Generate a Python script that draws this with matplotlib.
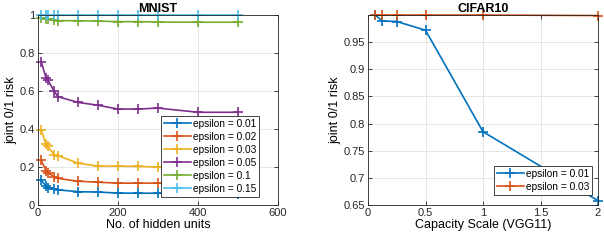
import matplotlib
matplotlib.use("Agg")
import matplotlib.pyplot as plt

plt.rcParams["font.family"] = ["Liberation Sans", "DejaVu Sans"]

# MNIST: joint 0/1 risk vs number of hidden units
mnist_units = [8, 20, 24, 40, 50, 100, 150, 200, 250, 300, 400, 500]
mnist_eps = ["0.01", "0.02", "0.03", "0.05", "0.1", "0.15"]
mnist_risk = [
    [0.13, 0.10, 0.09, 0.085, 0.08, 0.07, 0.068, 0.063, 0.062, 0.062, 0.061, 0.06],
    [0.235, 0.18, 0.17, 0.15, 0.14, 0.125, 0.12, 0.115, 0.115, 0.115, 0.115, 0.115],
    [0.395, 0.32, 0.31, 0.265, 0.26, 0.22, 0.205, 0.205, 0.203, 0.2, 0.198, 0.195],
    [0.755, 0.67, 0.66, 0.60, 0.57, 0.54, 0.525, 0.505, 0.505, 0.51, 0.488, 0.488],
    [0.985, 0.98, 0.98, 0.975, 0.97, 0.97, 0.968, 0.965, 0.965, 0.963, 0.962, 0.962],
    [1.0, 1.0, 1.0, 1.0, 1.0, 1.0, 1.0, 1.0, 1.0, 1.0, 1.0, 1.0],
]

# CIFAR10: joint 0/1 risk vs capacity scale
cifar_scale = [0.0625, 0.125, 0.25, 0.5, 1, 2]
cifar_eps = ["0.01", "0.03"]
cifar_risk = [
    [1.0, 0.989, 0.988, 0.972, 0.785, 0.658],
    [1.0, 1.0, 1.0, 1.0, 1.0, 0.999],
]

colors = ["#0072BD", "#D95319", "#EDB120", "#7E2F8E", "#77AC30", "#4DBEEE"]

W, H = 604, 242
fig = plt.figure(figsize=(W / 100, H / 100), dpi=100)
ax1 = fig.add_axes([38 / W, 1 - 205 / H, 240 / W, 190 / H])
ax2 = fig.add_axes([368 / W, 1 - 205 / H, 230 / W, 190 / H])


def style(ax):
    ax.grid(True, color="#e6e6e6", linewidth=0.7)
    ax.set_axisbelow(True)
    ax.tick_params(direction="in", length=3, width=0.6, labelsize=8,
                   top=True, right=True, colors="#262626", pad=2)
    for s in ax.spines.values():
        s.set_color("#262626")
        s.set_linewidth(0.6)


def legend(ax, anchor):
    leg = ax.legend(loc="lower right", bbox_to_anchor=anchor, fontsize=7.3,
                    frameon=True, fancybox=False, edgecolor="#262626",
                    borderpad=0.3, labelspacing=0.3, handlelength=2.6,
                    handletextpad=0.2, borderaxespad=0, framealpha=1)
    leg.get_frame().set_linewidth(0.6)
    leg.set_zorder(5)


for i, eps in enumerate(mnist_eps):
    ax1.plot(mnist_units, mnist_risk[i], color=colors[i], marker="+",
             markersize=6.5, markeredgewidth=1.2, linewidth=1.2,
             label=f"epsilon = {eps}", clip_on=False)
ax1.set_xlim(0, 600)
ax1.set_ylim(0, 1)
ax1.set_xticks([0, 200, 400, 600])
ax1.set_yticks([0, 0.2, 0.4, 0.6, 0.8, 1])
ax1.set_yticklabels(["0", "0.2", "0.4", "0.6", "0.8", "1"])
ax1.set_xlabel("No. of hidden units", fontsize=9, labelpad=1)
ax1.set_ylabel("joint 0/1 risk", fontsize=9, labelpad=2)
ax1.set_title("MNIST", fontsize=9, fontweight="bold", pad=2)
style(ax1)
legend(ax1, (0.921, 0.042))

for i, eps in enumerate(cifar_eps):
    ax2.plot(cifar_scale, cifar_risk[i], color=colors[i], marker="+",
             markersize=6.5, markeredgewidth=1.2, linewidth=1.2,
             label=f"epsilon = {eps}", clip_on=False)
ax2.set_xlim(0, 2)
ax2.set_ylim(0.65, 1.0)
ax2.set_xticks([0, 0.5, 1, 1.5, 2])
ax2.set_xticklabels(["0", "0.5", "1", "1.5", "2"])
ax2.set_yticks([0.65, 0.7, 0.75, 0.8, 0.85, 0.9, 0.95])
ax2.set_yticklabels(["0.65", "0.7", "0.75", "0.8", "0.85", "0.9", "0.95"])
ax2.set_xlabel("Capacity Scale (VGG11)", fontsize=9, labelpad=1)
ax2.set_ylabel("joint 0/1 risk", fontsize=9, labelpad=2)
ax2.set_title("CIFAR10", fontsize=9, fontweight="bold", pad=2)
style(ax2)
legend(ax2, (0.974, 0.053))

fig.savefig("out.png", dpi=100)
